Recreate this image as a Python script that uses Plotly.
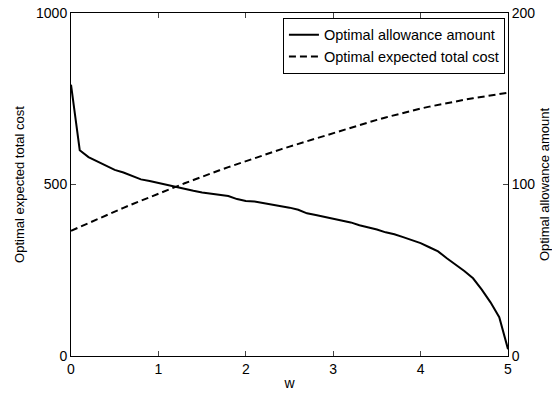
import plotly.graph_objects as go

w = [round(i * 0.1, 1) for i in range(51)]

allowance = [158.2, 120.0, 116.0, 113.5, 111.0, 108.5, 107.0, 105.0, 103.0, 102.0,
             100.8, 99.6, 98.3, 97.3, 96.3, 95.4, 94.7, 94.0, 93.3, 91.5,
             90.4, 90.1, 89.2, 88.5, 87.6, 86.5, 85.3, 83.2, 82.2, 81.1,
             80.1, 79.0, 77.9, 76.2, 75.0, 73.8, 72.1, 71.0, 69.3, 67.6,
             65.8, 63.4, 61.0, 57.0, 53.3, 49.6, 45.3, 38.7, 31.3, 22.6,
             4.0]

cost = [365.0, 376.5, 387.8, 399.0, 410.0, 421.0, 432.0, 442.5, 453.0, 463.5,
        473.5, 484.0, 494.0, 503.5, 513.0, 523.0, 532.0, 541.5, 550.5, 559.5,
        568.5, 577.0, 586.0, 594.5, 602.5, 610.5, 618.5, 626.5, 634.5, 642.5,
        650.5, 658.0, 666.0, 673.5, 681.0, 688.5, 695.5, 702.5, 709.0, 715.5,
        721.5, 727.0, 732.5, 737.5, 742.5, 747.0, 751.5, 755.5, 759.5, 763.5,
        767.5]

left_ticks = [0, 500, 1000]
right_ticks = [0, 100, 200]
x_ticks = [0, 1, 2, 3, 4, 5]

FONT = "Liberation Sans, Arial, sans-serif"

fig = go.Figure()
fig.add_trace(go.Scatter(x=w, y=allowance, mode="lines", yaxis="y2",
                         name="Optimal allowance amount",
                         line=dict(color="black", width=2)))
fig.add_trace(go.Scatter(x=w, y=cost, mode="lines", yaxis="y",
                         name="Optimal expected total cost",
                         line=dict(color="black", width=2, dash="7px,4px")))

fig.update_layout(
    width=552, height=396,
    margin=dict(l=71, r=44, t=13, b=40, autoexpand=False),
    paper_bgcolor="white", plot_bgcolor="white",
    font=dict(family=FONT, size=14, color="black"),
    showlegend=True,
    legend=dict(x=0.993, xanchor="right", y=0.986, yanchor="top",
                bgcolor="white", bordercolor="black", borderwidth=1,
                font=dict(size=14.5), itemwidth=30),
    xaxis=dict(range=[0, 5], tickvals=x_ticks, ticks="inside", ticklen=5,
               showline=True, linecolor="black", linewidth=1, mirror="ticks",
               showgrid=False, zeroline=False, automargin=False,
               title=dict(text="w", standoff=2, font=dict(size=14)),
               tickfont=dict(size=14)),
    yaxis=dict(range=[0, 1000], tickvals=left_ticks, ticks="inside", ticklen=5,
               showline=True, linecolor="black", linewidth=1,
               showgrid=False, zeroline=False, automargin=False,
               title=dict(text="Optimal expected total cost", standoff=8,
                          font=dict(size=13)),
               tickfont=dict(size=14)),
    yaxis2=dict(range=[0, 200], tickvals=right_ticks, ticks="inside", ticklen=5,
                overlaying="y", side="right",
                showline=True, linecolor="black", linewidth=1,
                showgrid=False, zeroline=False, automargin=False,
                title=dict(text="Optimal allowance amount", standoff=14,
                           font=dict(size=13)),
                tickfont=dict(size=14)),
)

fig.write_html("out.html")
